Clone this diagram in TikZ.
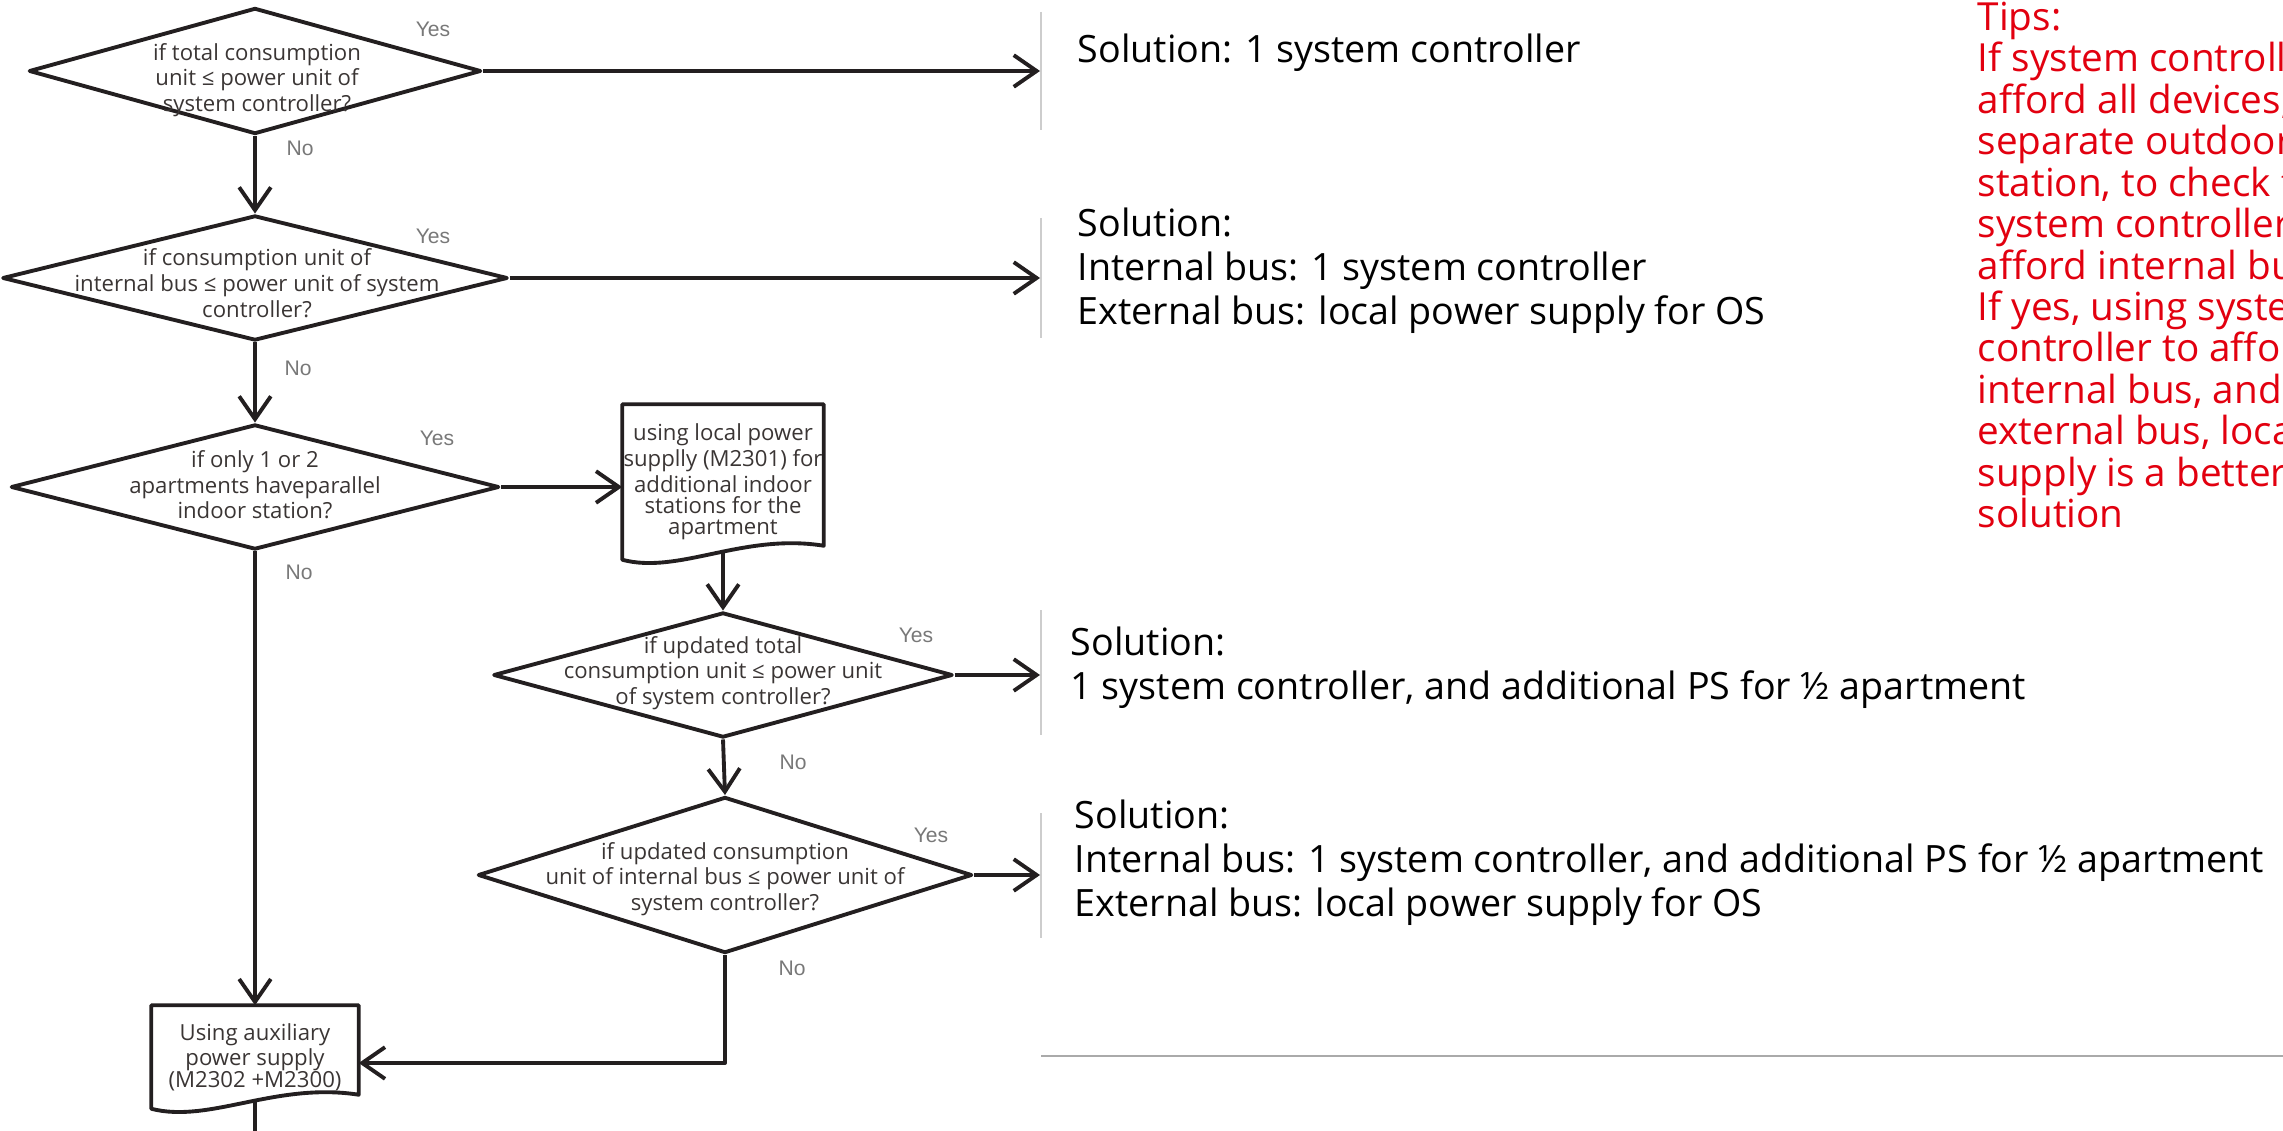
\documentclass[tikz,border=0pt]{standalone}
\usepackage{fontspec}
\setmainfont{Open Sans}
\newfontfamily\labelfont{Liberation Sans}
\usetikzlibrary{arrows.meta,shapes.geometric,calc}
\definecolor{lineblack}{RGB}{35,31,32}
\definecolor{boxtext}{RGB}{58,53,52}
\definecolor{labelgray}{RGB}{120,120,120}
\definecolor{bargray}{RGB}{205,205,205}
\definecolor{rulegray}{RGB}{170,170,170}
\definecolor{tipsred}{RGB}{226,0,15}
% outline of a document box round a node
\newcommand{\docshape}[1]{%
	\draw[flow] (#1.north west) -- (#1.north east) -- ($(#1.south east)+(0,-14)$)
	.. controls ($(#1.south west)!0.6!(#1.south east)+(0,-27)$) and ($(#1.south west)!0.28!(#1.south east)+(0,15)$) .. (#1.south west) -- cycle;}
\begin{document}
\begin{tikzpicture}[x=0.01cm,y=-0.01cm,>={Straight Barb[length=6.5pt,width=9pt]},line join=round,
	flow/.style={draw=lineblack,line width=1.1pt},
	decision/.style={flow,shape=diamond,inner sep=0pt},
	dtext/.style={text=boxtext,align=center,inner sep=0pt,font=\fontsize{6.3}{6.1}\selectfont},
	docbox/.style={dtext,minimum width=2cm},
	yn/.style={text=labelgray,inner sep=0pt,font=\labelfont\fontsize{6}{6}\selectfont},
	soltext/.style={anchor=west,align=left,inner sep=0pt,font=\fontsize{10.7}{12.5}\selectfont},
	tipstext/.style={anchor=west,align=left,inner sep=0pt,text=tipsred,font=\fontsize{11}{11.8}\selectfont},
	bar/.style={draw=bargray,line width=0.55pt}]
	\useasboundingbox (0,0) rectangle (2283,1131);
	% decisions
	\node[decision,minimum width=4.52cm,minimum height=1.26cm] (d1) at (255,71) {};
	\node[dtext] (d1txt) at (257,80) {if total consumption\\unit ≤ power unit of\\system controller?};
	\node[decision,minimum width=5.05cm,minimum height=1.25cm] (d2) at (255,278) {};
	\node[dtext] (d2txt) at (257,283) {if consumption unit of\\internal bus ≤ power unit of system\\controller?};
	\node[decision,minimum width=4.88cm,minimum height=1.25cm] (d3) at (255,487) {};
	\node[dtext] (d3txt) at (255,485) {if only 1 or 2\\apartments haveparallel\\indoor station?};
	\node[decision,minimum width=4.59cm,minimum height=1.25cm] (d4) at (723,675) {};
	\node[dtext] (d4txt) at (723,673) {if updated total\\consumption unit ≤ power unit\\of system controller?};
	\node[decision,minimum width=4.94cm,minimum height=1.56cm] (d5) at (725,875) {};
	\node[dtext] (d5txt) at (725,879) {if updated consumption\\unit of internal bus ≤ power unit of\\system controller?};
	% document boxes
	\node[docbox,minimum height=1.54cm] (doc1) at (723,482) {using local power\\supplly (M2301) for\\additional indoor\\stations for the\\apartment};
	\docshape{doc1}
	\node[docbox,minimum width=2.06cm,minimum height=1.02cm] (aux) at (255,1057) {Using auxiliary\\power supply\\(M2302 +M2300)};
	\docshape{aux}
	% yes / no
	\node[yn] (y1) at (433,29) {Yes};
	\node[yn] (n1) at (300,148) {No};
	\node[yn] (y2) at (433,236) {Yes};
	\node[yn] (n2) at (298,368) {No};
	\node[yn] (y3) at (437,438) {Yes};
	\node[yn] (n3) at (299,572) {No};
	\node[yn] (y4) at (916,635) {Yes};
	\node[yn] (n4) at (793,762) {No};
	\node[yn] (y5) at (931,835) {Yes};
	\node[yn] (n5) at (792,968) {No};
	% solutions
	\draw[bar] (1041,12) -- (1041,130);
	\draw[bar] (1041,218) -- (1041,338);
	\draw[bar] (1041,610) -- (1041,735);
	\draw[bar] (1041,813) -- (1041,938);
	\coordinate (bar1) at (1040,71);
	\coordinate (bar2) at (1040,278);
	\coordinate (bar4) at (1040,675);
	\coordinate (bar5) at (1040,875);
	\node[soltext] (sol1) at (1077,53) {Solution: 1 system controller};
	\node[soltext] (sol2) at (1077,271) {Solution:\\Internal bus: 1 system controller\\External bus: local power supply for OS};
	\node[soltext] (sol4) at (1070,668) {Solution:\\1 system controller, and additional PS for ½ apartment};
	\node[soltext] (sol5) at (1074,863) {Solution:\\Internal bus: 1 system controller, and additional PS for ½ apartment\\External bus: local power supply for OS};
	\draw[draw=rulegray,line width=0.8pt] (1041,1056) -- (2283,1056);
	% tips
	\node[tipstext] (tips) at (1977,265) {Tips:\\If system controll\\afford all devices,\\separate outdoor\\station, to check t\\system controller\\afford internal bu\\If yes, using syste\\controller to affor\\internal bus, and t\\external bus, loca\\supply is a better\\solution};
	% connectors
	\coordinate (turn) at (d5.south |- 0,1063);
	\coordinate (docout) at ($(doc1.south)+(0,-7)$);
	\coordinate (auxout) at ($(aux.south)+(0,-7)$);
	\coordinate (pageend) at (aux.south |- 0,1131);
	\draw[flow,->] (d1.east) -- (bar1);
	\draw[flow,->] (d2.east) -- (bar2);
	\draw[flow,->] (d4.east) -- (bar4);
	\draw[flow,->] (d5.east) -- (bar5);
	\draw[flow,->] (d1.south) -- (d2.north);
	\draw[flow,->] (d2.south) -- (d3.north);
	\draw[flow,->] (d3.south) -- (aux.north);
	\draw[flow,->] (d3.east) -- (d3.east -| doc1.west);
	\draw[flow,->] (docout) -- (d4.north);
	\draw[flow,->] (d4.south) -- (d5.north);
	\draw[flow,->] (d5.south) -- (turn) -- (turn -| aux.east);
	\draw[flow] (auxout) -- (pageend);
\end{tikzpicture}
\end{document}
